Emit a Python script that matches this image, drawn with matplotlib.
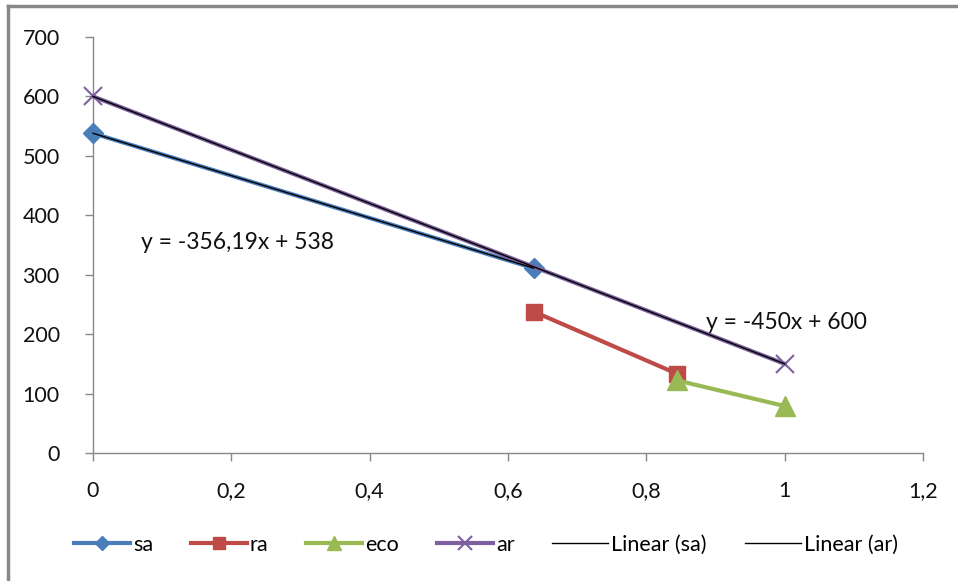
import matplotlib
matplotlib.use("Agg")
import matplotlib.pyplot as plt
from matplotlib.lines import Line2D
import numpy as np

plt.rcParams['font.family'] = ['Lato', 'DejaVu Sans']

sa_x = [0, 0.637]
sa_y = [538, 311]
ra_x = [0.637, 0.845]
ra_y = [238, 133]
eco_x = [0.845, 1.0]
eco_y = [122, 79]
ar_x = [0, 1.0]
ar_y = [600, 150]

sa_fit = (-356.19, 538)
ar_fit = (-450, 600)

x_ticks = [0, 0.2, 0.4, 0.6, 0.8, 1.0, 1.2]
x_labels = ['0', '0,2', '0,4', '0,6', '0,8', '1', '1,2']
y_ticks = [0, 100, 200, 300, 400, 500, 600, 700]

c_sa = '#4a7ebb'
c_ra = '#be4b48'
c_eco = '#98b954'
c_ar = '#7d60a0'
txt = '#111111'
fs = 15.5

fig = plt.figure(figsize=(9.58, 5.81), dpi=100)
ax = fig.add_axes([93/958, 1-453/581, (923-93)/958, (453-37)/581])

ax.plot(sa_x, sa_y, color=c_sa, lw=3, marker='D', ms=10, label='sa', zorder=3, clip_on=False)
ax.plot(ra_x, ra_y, color=c_ra, lw=3, marker='s', ms=12, label='ra', zorder=3, clip_on=False)
ax.plot(eco_x, eco_y, color=c_eco, lw=3, marker='^', ms=14, label='eco', zorder=3, clip_on=False)
ax.plot(ar_x, ar_y, color=c_ar, lw=3, marker='x', ms=13, mew=1.5, label='ar', zorder=3, clip_on=False)

fx = np.array([min(sa_x), max(sa_x)])
ax.plot(fx, sa_fit[0]*fx + sa_fit[1], color='black', lw=1, label='Linear (sa)', zorder=4, clip_on=False)
fx2 = np.array([min(ar_x), max(ar_x)])
ax.plot(fx2, ar_fit[0]*fx2 + ar_fit[1], color='black', lw=1, label='Linear (ar)', zorder=4, clip_on=False)

ax.text(0.07, 355, 'y = -356,19x + 538', fontsize=16.5, color=txt, va='center', ha='left')
ax.text(0.886, 219, 'y = -450x + 600', fontsize=16.5, color=txt, va='center', ha='left')

ax.set_xlim(0, 1.2)
ax.set_ylim(0, 700)
ax.set_xticks(x_ticks)
ax.set_xticklabels(x_labels)
ax.set_yticks(y_ticks)
for s in ['top', 'right']:
    ax.spines[s].set_visible(False)
for s in ['left', 'bottom']:
    ax.spines[s].set_color('#888888')
    ax.spines[s].set_linewidth(1)
ax.tick_params(axis='both', colors='#888888', labelcolor=txt, labelsize=fs, length=6, width=1, direction='out')
ax.tick_params(axis='x', pad=14)
ax.tick_params(axis='y', pad=18)

handles, labels = ax.get_legend_handles_labels()
leg = fig.legend(handles, labels, loc='center', bbox_to_anchor=(0.507, 1-545/581), ncol=6,
                 frameon=False, fontsize=fs, handlelength=2.6, handletextpad=0.15, columnspacing=1.75,
                 markerscale=0.75)

fig.add_artist(Line2D([8/958, 8/958], [0, 1-6/581], color='#888888', lw=2.5, transform=fig.transFigure))
fig.add_artist(Line2D([8/958, 1], [1-6/581, 1-6/581], color='#888888', lw=2.5, transform=fig.transFigure))

fig.savefig('out.png', dpi=100)
